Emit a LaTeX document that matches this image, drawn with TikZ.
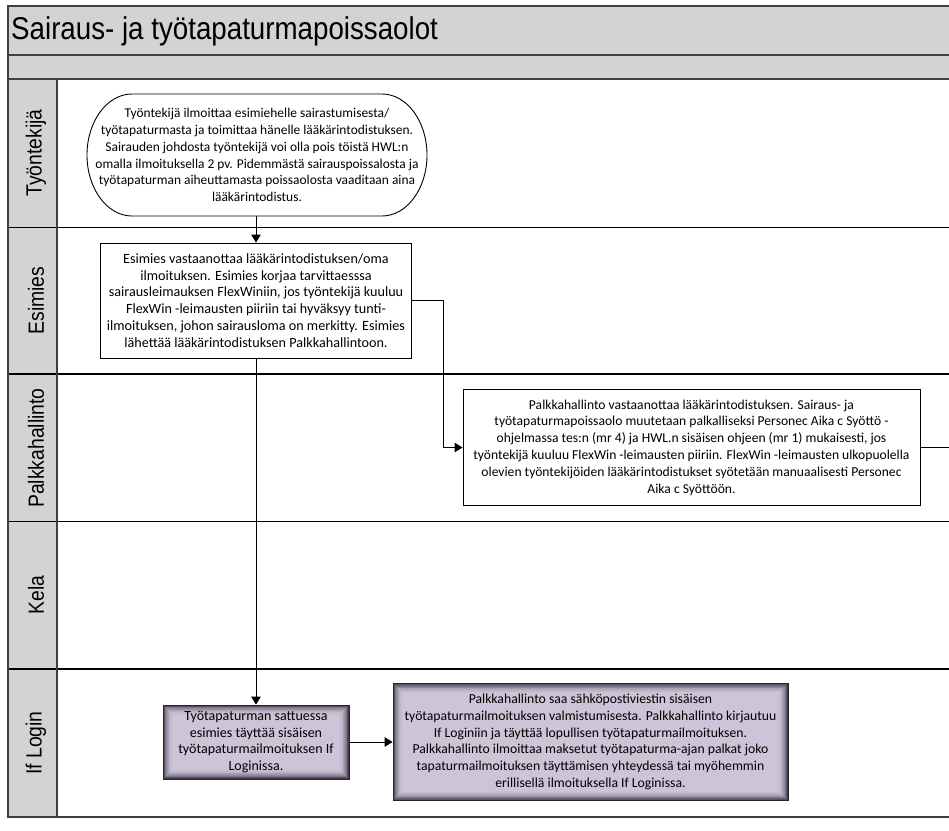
\documentclass[tikz,border=0pt]{standalone}
\usepackage{fontspec}
\setmainfont{Carlito}
\newfontfamily\lanefont[FakeStretch=0.88]{Liberation Sans}
\usetikzlibrary{arrows.meta}
\definecolor{bandgray}{RGB}{211,211,211}
\definecolor{framegray}{RGB}{64,64,64}
\definecolor{glowlight}{RGB}{204,197,216}
\definecolor{glowdark}{RGB}{66,59,78}
\tikzset{
  bodytext/.style={font=\fontsize{#1}{16.8}\selectfont, align=center, text=black, inner sep=1pt},
  bodytext/.default=14,
  procbox/.style={bodytext=#1, rectangle, draw=black, line width=0.9pt, fill=white},
  procbox/.default=14,
  termbox/.style={bodytext=#1, rectangle, draw=none},
  termbox/.default=14,
  termline/.style={draw=black, line width=0.9pt, fill=white},
  glowbox/.style={bodytext=#1, rectangle, draw=black!85, line width=0.8pt, fill=glowdark,
    path picture={
      \foreach \k/\p in {1/15,2/30,3/43,4/55,5/65,6/74,7/81,8/87,9/92,10/95,11/98,12/100}{
        \fill[glowlight!\p!glowdark]
          ([shift={(\k*0.8pt,-\k*0.8pt)}]path picture bounding box.north west)
          rectangle
          ([shift={(-\k*0.8pt,\k*0.8pt)}]path picture bounding box.south east);
      }}},
  glowbox/.default=14,
  lanelabel/.style={font=\lanefont\fontsize{22}{26}\selectfont, rotate=90, text=black},
  arr/.style={draw=black, line width=0.9pt, -{Triangle[length=8pt,width=9.5pt]}},
  conn/.style={draw=black, line width=0.9pt},
  laneline/.style={draw=black, line width=1.3pt},
  frameline/.style={draw=framegray, line width=2pt},
}
\begin{document}
\begin{tikzpicture}[x=1pt,y=-1pt]
\useasboundingbox (0,0) rectangle (949,830);
\clip (0,0) rectangle (949,830);
% bands
\fill[bandgray] (7.5,5.5) rectangle (980,79);
\fill[bandgray] (7.5,79) rectangle (57,817);
% lane lines
\foreach \y in {227.5,374,521.5,669}{
  \draw[laneline] (7.5,\y) -- (980,\y);
}
\draw[frameline] (7.5,55) -- (980,55);
\draw[frameline] (7.5,79) -- (980,79);
\draw[frameline] (57,79) -- (57,817);
\draw[frameline] (7.5,5.5) rectangle (980,817);
% title
\node[font=\lanefont\fontsize{31.5}{34}\selectfont, anchor=west, inner sep=0pt] (title) at (11,31) {Sairaus- ja työtapaturmapoissaolot};
% lane labels
\node[lanelabel] (l1) at (36,153) {Työntekijä};
\node[lanelabel] (l2) at (36,300.5) {Esimies};
\node[lanelabel] (l3) at (36,448) {Palkkahallinto};
\node[lanelabel] (l4) at (36,595) {Kela};
\node[lanelabel] (l5) at (36,743) {If Login};
% terminator outline (elliptic ends)
\draw[termline] (132,94) -- (382,94) arc[start angle=90,end angle=-90,x radius=45pt,y radius=61pt]
  -- (132,216) arc[start angle=270,end angle=90,x radius=45pt,y radius=61pt] -- cycle;
% nodes
\node[termbox=13.45, minimum width=340, minimum height=122] (term) at (257,155)
 {Työntekijä ilmoittaa esimiehelle sairastumisesta/\\työtapaturmasta ja toimittaa hänelle lääkärintodistuksen.\\Sairauden johdosta työntekijä voi olla pois töistä HWL:n\\omalla ilmoituksella 2 pv. Pidemmästä sairauspoissalosta ja\\työtapaturman aiheuttamasta poissaolosta vaaditaan aina\\lääkärintodistus.};
\node[procbox=14.15, minimum width=311, minimum height=115] (esim) at (256,300.5)
 {Esimies vastaanottaa lääkärintodistuksen/oma\\ilmoituksen. Esimies korjaa tarvittaesssa\\sairausleimauksen FlexWiniin, jos työntekijä kuuluu\\FlexWin -leimausten piiriin tai hyväksyy tunti-\\ilmoituksen, johon sairausloma on merkitty. Esimies\\lähettää lääkärintodistuksen Palkkahallintoon.};
\node[procbox=13.6, minimum width=457, minimum height=116] (palk) at (691.5,447.5)
 {Palkkahallinto vastaanottaa lääkärintodistuksen. Sairaus- ja\\työtapaturmapoissaolo muutetaan palkalliseksi Personec Aika c Syöttö -\\ohjelmassa tes:n (mr 4) ja HWL.n sisäisen ohjeen (mr 1) mukaisesti, jos\\työntekijä kuuluu FlexWin -leimausten piiriin. FlexWin -leimausten ulkopuolella\\olevien työntekijöiden lääkärintodistukset syötetään manuaalisesti Personec\\Aika c Syöttöön.};
\node[glowbox=14, minimum width=186, minimum height=74] (if1) at (256,742)
 {Työtapaturman sattuessa\\esimies täyttää sisäisen\\työtapaturmailmoituksen If\\Loginissa.};
\node[glowbox=13.7, minimum width=395, minimum height=117] (if2) at (590.5,742)
 {Palkkahallinto saa sähköpostiviestin sisäisen\\työtapaturmailmoituksen valmistumisesta. Palkkahallinto kirjautuu\\If Loginiin ja täyttää lopullisen työtapaturmailmoituksen.\\Palkkahallinto ilmoittaa maksetut työtapaturma-ajan palkat joko\\tapaturmailmoituksen täyttämisen yhteydessä tai myöhemmin\\erillisellä ilmoituksella If Loginissa.};
\coordinate (offright) at (970,447.5);
% connectors
\draw[arr] (term.south -| esim.north) -- (esim.north);
\draw[arr] (esim.east) -- ++(31,0) |- (palk.west);
\draw[arr] (esim.south) -- (if1.north);
\draw[arr] (if1.east) -- (if2.west);
\draw[conn] (palk.east) -- (offright);
\end{tikzpicture}
\end{document}
